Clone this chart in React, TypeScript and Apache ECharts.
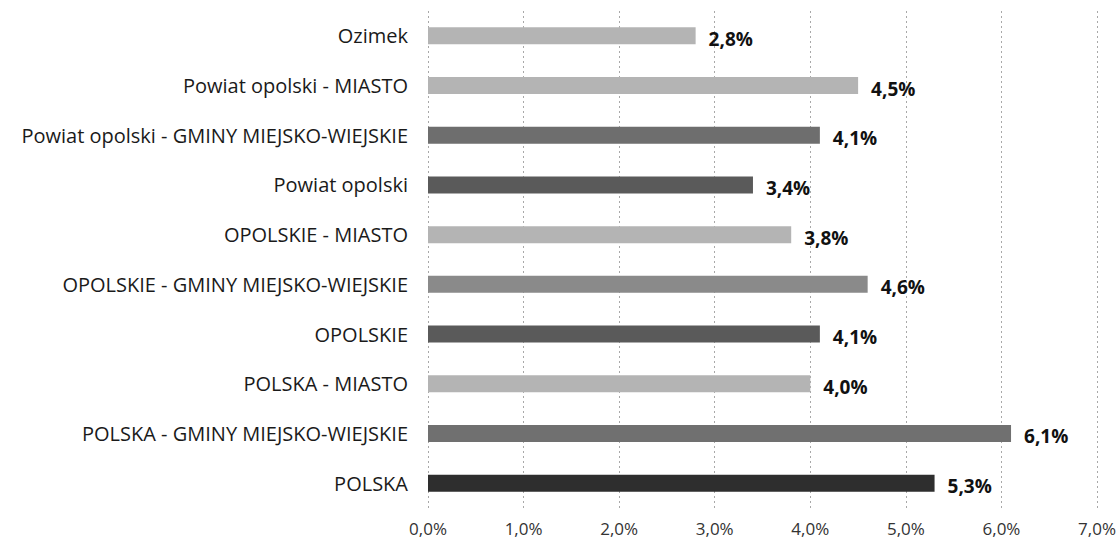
import React, { useEffect, useRef } from "react";
import * as echarts from "echarts";

const categories = [
  "Ozimek",
  "Powiat opolski - MIASTO",
  "Powiat opolski - GMINY MIEJSKO-WIEJSKIE",
  "Powiat opolski",
  "OPOLSKIE - MIASTO",
  "OPOLSKIE - GMINY MIEJSKO-WIEJSKIE",
  "OPOLSKIE",
  "POLSKA - MIASTO",
  "POLSKA - GMINY MIEJSKO-WIEJSKIE",
  "POLSKA",
];
const values = [2.8, 4.5, 4.1, 3.4, 3.8, 4.6, 4.1, 4.0, 6.1, 5.3];
const barColors = [
  "#b4b4b4", "#b4b4b4", "#6e6e6e", "#5a5a5a", "#b4b4b4",
  "#8a8a8a", "#5a5a5a", "#b4b4b4", "#707070", "#2e2e2e",
];

const fmt = (v: number) => v.toFixed(1).replace(".", ",") + "%";

export default function App() {
  const ref = useRef<HTMLDivElement>(null);
  useEffect(() => {
    if (!ref.current) return;
    const chart = echarts.init(ref.current, null, { renderer: "svg" });
    chart.setOption({
      animation: false,
      grid: { left: 428, right: 19, top: 11, bottom: 40, containLabel: false },
      xAxis: {
        type: "value",
        min: 0,
        max: 7,
        interval: 1,
        axisLine: { show: false },
        axisTick: { show: false },
        splitLine: { show: true, lineStyle: { color: "#a8a8a8", type: [2, 3], width: 1 } },
        axisLabel: {
          formatter: (v: number) => fmt(v),
          color: "#333",
          fontFamily: "Open Sans",
          fontSize: 17,
          margin: 12,
        },
      },
      yAxis: {
        type: "category",
        data: categories,
        inverse: true,
        axisLine: { show: false },
        axisTick: { show: false },
        axisLabel: {
          color: "#1a1a1a",
          fontFamily: "Open Sans",
          fontSize: 20,
          margin: 20,
        },
      },
      series: [
        {
          type: "bar",
          data: values.map((v, i) => ({ value: v, itemStyle: { color: barColors[i] } })),
          barWidth: 17,
          label: {
            show: true,
            position: "right",
            distance: 13,
            offset: [0, 3],
            formatter: (p: any) => fmt(p.value),
            fontFamily: "Open Sans",
            fontWeight: "bold",
            fontSize: 19,
            color: "#111",
          },
        },
      ],
    });
    return () => chart.dispose();
  }, []);
  return <div ref={ref} style={{ width: 1119, height: 548, position: "absolute", left: 0, top: 0 }} />;
}
